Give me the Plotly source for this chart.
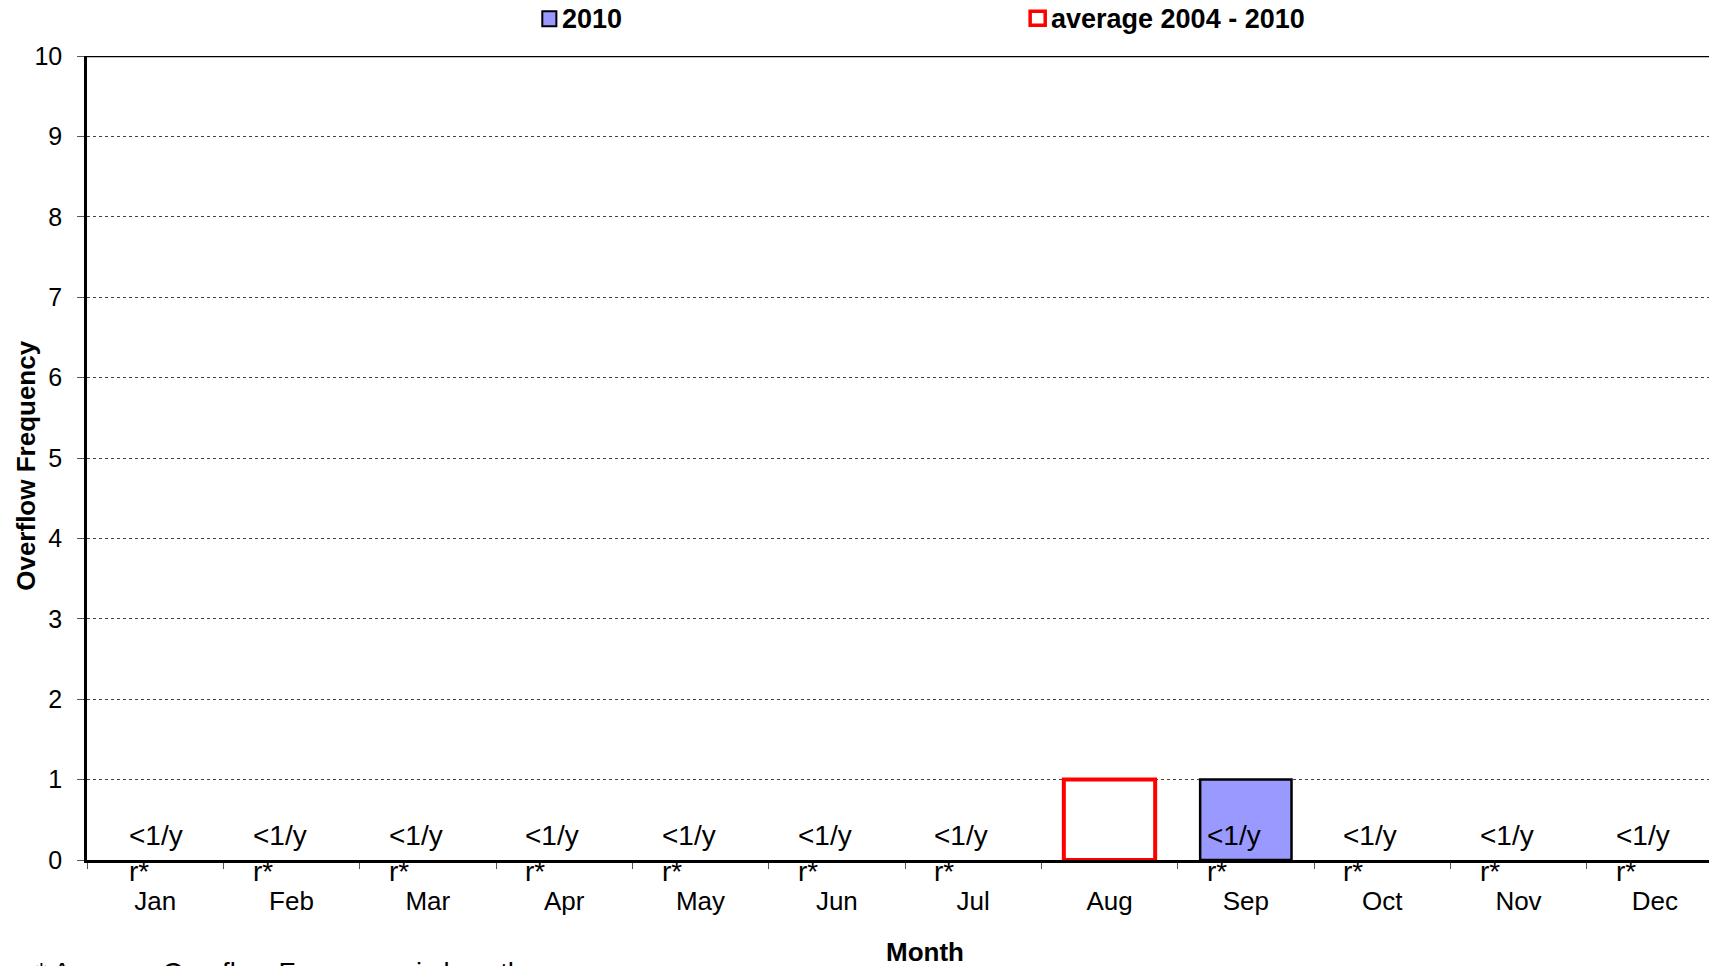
import plotly.graph_objects as go

months = ["Jan", "Feb", "Mar", "Apr", "May", "Jun", "Jul", "Aug", "Sep", "Oct", "Nov", "Dec"]
freq_2010 = [0, 0, 0, 0, 0, 0, 0, 0, 1, 0, 0, 0]
freq_avg = [0, 0, 0, 0, 0, 0, 0, 1, 0, 0, 0, 0]
avg_labels = ["<1/yr*", "<1/yr*", "<1/yr*", "<1/yr*", "<1/yr*", "<1/yr*", "<1/yr*", "",
              "<1/yr*", "<1/yr*", "<1/yr*", "<1/yr*"]
y_ticks = list(range(0, 11))

FONT = "Liberation Sans, Arial, sans-serif"
FS = 26


def nz(vals):
    # zero-height bars are not drawn (no outline at the baseline)
    return [v if v else None for v in vals]


fig = go.Figure()
fig.add_trace(go.Bar(
    x=months, y=nz(freq_avg), name="average 2004 - 2010", width=0.67,
    marker=dict(color="white", line=dict(color="#FF0000", width=4)),
    showlegend=False,
))
fig.add_trace(go.Bar(
    x=months, y=nz(freq_2010), name="2010", width=0.67,
    marker=dict(color="#9999FF", line=dict(color="black", width=2.5)),
    showlegend=False,
))

annotations = []
for i, (m, lab) in enumerate(zip(months, avg_labels)):
    if not lab:
        continue
    annotations.append(dict(
        x=m, y=0.08, xref="x", yref="y", text=lab[:4] + "<br>" + lab[4:],
        showarrow=False, xanchor="left", yanchor="middle", align="left",
        xshift=-28 if i == 0 else -41,
        font=dict(family=FONT, size=28, color="black"),
    ))

# axis titles
annotations.append(dict(
    x=-0.037, y=0.4909, xref="paper", yref="paper", text="<b>Overflow Frequency</b>",
    textangle=-90, showarrow=False, xanchor="center", yanchor="middle",
    font=dict(family=FONT, size=FS, color="black"),
))
annotations.append(dict(
    x=0.5124, y=-0.1148, xref="paper", yref="paper", text="<b>Month</b>",
    showarrow=False, xanchor="center", yanchor="middle",
    font=dict(family=FONT, size=FS, color="black"),
))
annotations.append(dict(
    x=-0.0325, y=-0.1405, xref="paper", yref="paper",
    text="* Average Overflow Frequency is less than once per year",
    showarrow=False, xanchor="left", yanchor="middle",
    font=dict(family=FONT, size=27.5, color="black"),
))
# legend texts
annotations.append(dict(
    x=0.2893, y=1.0463, xref="paper", yref="paper", text="<b>2010</b>",
    showarrow=False, xanchor="left", yanchor="middle",
    font=dict(family=FONT, size=27, color="black"),
))
annotations.append(dict(
    x=0.5882, y=1.0463, xref="paper", yref="paper", text="<b>average 2004 - 2010</b>",
    showarrow=False, xanchor="left", yanchor="middle",
    font=dict(family=FONT, size=27, color="black"),
))

shapes = [
    dict(type="rect", xref="paper", yref="paper", x0=0.2783, x1=0.2869, y0=1.0371, y1=1.0557,
         fillcolor="#9999FF", line=dict(color="black", width=2)),
    dict(type="rect", xref="paper", yref="paper", x0=0.5765, x1=0.5857, y0=1.0383, y1=1.0557,
         fillcolor="white", line=dict(color="#FF0000", width=3.5)),
    # top frame line of the plot area
    dict(type="line", xref="paper", yref="y", x0=0, x1=1, y0=10, y1=10,
         line=dict(color="black", width=2.5)),
]

fig.update_layout(
    width=1717, height=966,
    margin=dict(l=78.5, r=2, t=48, b=114.4),
    paper_bgcolor="white", plot_bgcolor="white",
    barmode="overlay",
    font=dict(family=FONT, size=FS, color="black"),
    annotations=annotations,
    shapes=shapes,
)
fig.update_xaxes(
    type="category", range=[-0.5, 11.5],
    showline=True, linecolor="black", linewidth=2.5,
    ticks="outside", tickson="boundaries", ticklen=6, tickcolor="#555", tickwidth=1,
    showgrid=False, tickfont=dict(family=FONT, size=FS, color="black"),
    ticklabelstandoff=16,
)
fig.update_yaxes(
    range=[0, 10], tickvals=y_ticks,
    showline=True, linecolor="black", linewidth=2.5,
    ticks="outside", ticklen=7, tickcolor="#555", tickwidth=1,
    showgrid=True, gridcolor="#444", griddash="dot", gridwidth=1,
    zeroline=False, tickfont=dict(family=FONT, size=FS - 1, color="black"),
    ticklabelstandoff=10,
)

fig.write_html("out.html")
